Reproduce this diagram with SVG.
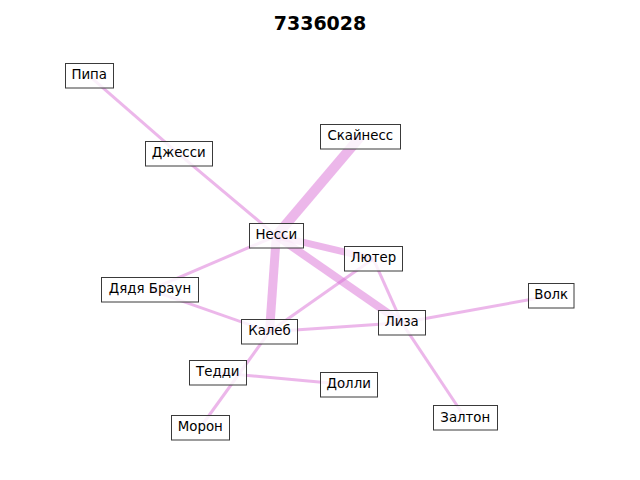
<svg xmlns="http://www.w3.org/2000/svg" width="640" height="480" viewBox="0 0 640 480">
<style>
.e{stroke:#da70d6;stroke-opacity:0.5;stroke-linecap:butt;fill:none}
.b{fill:#ffffff;fill-opacity:0.8;stroke:#3a3a3a;stroke-width:1}
.t{font-family:"DejaVu Sans","Noto Sans",sans-serif;font-size:13.33px;fill:#000;text-anchor:middle}
.title{font-family:"DejaVu Sans",sans-serif;font-size:19px;font-weight:bold;text-anchor:middle;fill:#000}
</style>
<rect width="640" height="480" fill="#fff"/>
<text class="title" x="320" y="30">7336028</text>
<g id="edges">
<line class="e" style="stroke-width:10" x1="360.3" y1="136.7" x2="276.3" y2="235.8"/>
<line class="e" style="stroke-width:9" x1="276.3" y1="235.8" x2="269.5" y2="331.7"/>
<line class="e" style="stroke-width:8" x1="276.3" y1="235.8" x2="401.8" y2="322.7"/>
<line class="e" style="stroke-width:7" x1="276.3" y1="235.8" x2="373.3" y2="258.8"/>
<line class="e" style="stroke-width:3" x1="89.2" y1="75.8" x2="178.7" y2="153.8"/>
<line class="e" style="stroke-width:3" x1="178.7" y1="153.8" x2="276.3" y2="235.8"/>
<line class="e" style="stroke-width:3" x1="276.3" y1="235.8" x2="150" y2="289.8"/>
<line class="e" style="stroke-width:3" x1="150" y1="289.8" x2="269.5" y2="331.7"/>
<line class="e" style="stroke-width:3" x1="373.3" y1="258.8" x2="269.5" y2="331.7"/>
<line class="e" style="stroke-width:3" x1="373.3" y1="258.8" x2="401.8" y2="322.7"/>
<line class="e" style="stroke-width:3" x1="401.8" y1="322.7" x2="465.3" y2="418"/>
<line class="e" style="stroke-width:3" x1="401.8" y1="322.7" x2="551.2" y2="295.8"/>
<line class="e" style="stroke-width:3" x1="269.5" y1="331.7" x2="401.8" y2="322.7"/>
<line class="e" style="stroke-width:3" x1="269.5" y1="331.7" x2="200.3" y2="427.5"/>
<line class="e" style="stroke-width:3" x1="217.8" y1="372.8" x2="348.7" y2="384.8"/>
</g>
<g id="n-pipa"><rect class="b" x="65.5" y="63.5" width="48" height="24.5"/><text class="t" x="89.2" y="79.4">Пипа</text></g>
<g id="n-skajness"><rect class="b" x="320.5" y="124.5" width="80" height="24.5"/><text class="t" x="360.3" y="140.3">Скайнесс</text></g>
<g id="n-dzhessi"><rect class="b" x="145.5" y="141.5" width="67" height="24.5"/><text class="t" x="178.7" y="157.4">Джесси</text></g>
<g id="n-nessi"><rect class="b" x="249.5" y="223.5" width="54" height="24.5"/><text class="t" x="276.3" y="239.4">Несси</text></g>
<g id="n-ljuter"><rect class="b" x="344.5" y="246.5" width="58" height="24.5"/><text class="t" x="373.3" y="262.4">Лютер</text></g>
<g id="n-djadja"><rect class="b" x="101.5" y="277.5" width="97" height="24.5"/><text class="t" x="150" y="293.4">Дядя Браун</text></g>
<g id="n-volk"><rect class="b" x="528.5" y="283.5" width="45.5" height="24.5"/><text class="t" x="551.2" y="299.4">Волк</text></g>
<g id="n-kaleb"><rect class="b" x="241.5" y="319.5" width="56" height="24.5"/><text class="t" x="269.5" y="335.3">Калеб</text></g>
<g id="n-liza"><rect class="b" x="378.5" y="310.5" width="47" height="24.5"/><text class="t" x="401.8" y="326.3">Лиза</text></g>
<g id="n-teddi"><rect class="b" x="189.5" y="360.5" width="57" height="24.5"/><text class="t" x="217.8" y="376.4">Тедди</text></g>
<g id="n-dolli"><rect class="b" x="320.5" y="372.5" width="57" height="24.5"/><text class="t" x="348.7" y="388.4">Долли</text></g>
<g id="n-moron"><rect class="b" x="171.5" y="415.5" width="58" height="24.5"/><text class="t" x="200.3" y="431.1">Морон</text></g>
<g id="n-zalton"><rect class="b" x="433.5" y="405.5" width="64" height="24.5"/><text class="t" x="465.3" y="421.6">Залтон</text></g>
</svg>
